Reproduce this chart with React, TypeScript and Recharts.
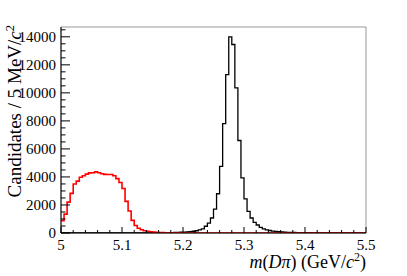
import { ComposedChart, Line, XAxis, YAxis, ReferenceArea, Label } from "recharts";

// 5 MeV bins from 5.0 to 5.5 GeV/c^2 (100 bins, values = candidates per bin)
const binStart = 5.0;
const binWidth = 0.005;

// background / other sample (red)
const redCounts = [
  880, 1350, 2200, 2830, 3500, 3700, 3980, 4090, 4200, 4290,
  4300, 4360, 4300, 4230, 4180, 4170, 4170, 4080, 3880, 3600,
  3180, 2260, 1570, 900, 540, 340, 230, 160, 115, 85,
  60, 45, 35, 25, 20, 15, 12, 10, 8, 6,
  5, 4, 4, 3, 3, 3, 2, 2, 2, 2,
  2, 1, 1, 1, 1, 1, 1, 1, 1, 1,
  1, 1, 1, 1, 1, 1, 0, 0, 0, 0,
  0, 0, 0, 0, 0, 0, 0, 0, 0, 0,
  0, 0, 0, 0, 0, 0, 0, 0, 0, 0,
  0, 0, 0, 0, 0, 0, 0, 0, 0, 0,
];

// signal sample (black)
const blackCounts = [
  2, 2, 2, 3, 3, 3, 3, 3, 4, 4,
  4, 4, 5, 5, 5, 5, 6, 6, 6, 7,
  7, 7, 8, 8, 8, 9, 9, 9, 10, 10,
  10, 12, 15, 18, 22, 26, 30, 35, 45, 55,
  65, 80, 100, 125, 160, 220, 290, 480, 710, 1070,
  1710, 2800, 4760, 7800, 11300, 14000, 13450, 10360, 6600, 3930,
  2430, 1550, 1070, 760, 570, 400, 300, 230, 180, 140,
  110, 90, 75, 60, 50, 42, 36, 30, 26, 22,
  19, 17, 15, 13, 12, 11, 10, 9, 8, 8,
  7, 7, 6, 6, 5, 5, 5, 4, 4, 4,
];

const xTicks = [
  5.0, 5.02, 5.04, 5.06, 5.08, 5.1, 5.12, 5.14, 5.16, 5.18, 5.2, 5.22, 5.24, 5.26, 5.28,
  5.3, 5.32, 5.34, 5.36, 5.38, 5.4, 5.42, 5.44, 5.46, 5.48, 5.5,
];
const xLabels = ["5", "5.1", "5.2", "5.3", "5.4", "5.5"];

const yTicks = [
  0, 500, 1000, 1500, 2000, 2500, 3000, 3500, 4000, 4500, 5000, 5500, 6000, 6500, 7000,
  7500, 8000, 8500, 9000, 9500, 10000, 10500, 11000, 11500, 12000, 12500, 13000, 13500,
  14000, 14500,
];
const yLabels = ["0", "2000", "4000", "6000", "8000", "10000", "12000", "14000"];

const yMax = 14700;
const font = "'Liberation Serif', 'DejaVu Serif', serif";

const data = redCounts.map((r, i) => ({
  x: binStart + i * binWidth,
  red: r,
  black: blackCounts[i],
}));
data.push({
  x: binStart + redCounts.length * binWidth,
  red: redCounts[redCounts.length - 1],
  black: blackCounts[blackCounts.length - 1],
});

const labelFor = (v: number, labels: string[]) =>
  labels.find((l) => Math.abs(parseFloat(l) - v) < 1e-6);

const renderXTick = (props: any) => {
  const { x, y, payload } = props;
  const lab = labelFor(payload.value, xLabels);
  return (
    <g key={`xt-${payload.value}`}>
      <line x1={x} x2={x} y1={y} y2={y - (lab ? 6 : 3)} stroke="#000" />
      {lab && (
        <text x={x} y={y + 17} textAnchor="middle" fontSize={15} fontFamily={font} fill="#000">
          {lab}
        </text>
      )}
    </g>
  );
};

const renderYTick = (props: any) => {
  const { x, y, payload } = props;
  const lab = labelFor(payload.value, yLabels);
  return (
    <g key={`yt-${payload.value}`}>
      <line x1={x} x2={x + (lab ? 9 : 4.5)} y1={y} y2={y} stroke="#000" />
      {lab && (
        <text x={x - 5} y={y + 5} textAnchor="end" fontSize={15} fontFamily={font} fill="#000">
          {lab}
        </text>
      )}
    </g>
  );
};

const renderXTitle = (props: any) => {
  const { x, y, width } = props.viewBox;
  return (
    <text x={x + width} y={y + 35} textAnchor="end" fontSize={18} fontFamily={font} fill="#000">
      <tspan fontStyle="italic">m</tspan>
      <tspan>(</tspan>
      <tspan fontStyle="italic">Dπ</tspan>
      <tspan>) (GeV/</tspan>
      <tspan fontStyle="italic">c</tspan>
      <tspan dy={-7} fontSize={12}>2</tspan>
      <tspan dy={7}>)</tspan>
    </text>
  );
};

const renderYTitle = (props: any) => {
  const { y } = props.viewBox;
  const tx = 21;
  const ty = y - 2;
  return (
    <text
      x={tx}
      y={ty}
      transform={`rotate(-90 ${tx} ${ty})`}
      textAnchor="end"
      fontSize={19}
      fontFamily={font}
      fill="#000"
    >
      <tspan>Candidates / 5 MeV/</tspan>
      <tspan fontStyle="italic">c</tspan>
      <tspan dy={-7} fontSize={12.5}>2</tspan>
    </text>
  );
};

const App = () => {
  return (
    <div style={{ position: "absolute", left: 0, top: 0, background: "#fff" }}>
      <ComposedChart
        width={407}
        height={276}
        data={data}
        margin={{ top: 27, right: 41, bottom: 0, left: 0 }}
      >
        <ReferenceArea
          x1={5}
          x2={5.5}
          y1={0}
          y2={yMax}
          fill="none"
          stroke="#999"
          strokeWidth={1}
        />
        <XAxis
          dataKey="x"
          type="number"
          domain={[5, 5.5]}
          ticks={xTicks}
          interval={0}
          height={43}
          tickSize={0}
          tickMargin={0}
          tick={renderXTick}
          tickLine={false}
          axisLine={{ stroke: "#000" }}
          allowDataOverflow
        >
          <Label content={renderXTitle} />
        </XAxis>
        <YAxis
          type="number"
          domain={[0, yMax]}
          ticks={yTicks}
          interval={0}
          width={61}
          tickSize={0}
          tickMargin={0}
          tick={renderYTick}
          tickLine={false}
          axisLine={{ stroke: "#000" }}
          allowDataOverflow
        >
          <Label content={renderYTitle} />
        </YAxis>
        <Line
          type="stepAfter"
          dataKey="black"
          stroke="#000"
          strokeWidth={1.3}
          dot={false}
          isAnimationActive={false}
        />
        <Line
          type="stepAfter"
          dataKey="red"
          stroke="#ff0000"
          strokeWidth={1.6}
          dot={false}
          isAnimationActive={false}
        />
      </ComposedChart>
    </div>
  );
};

export default App;
